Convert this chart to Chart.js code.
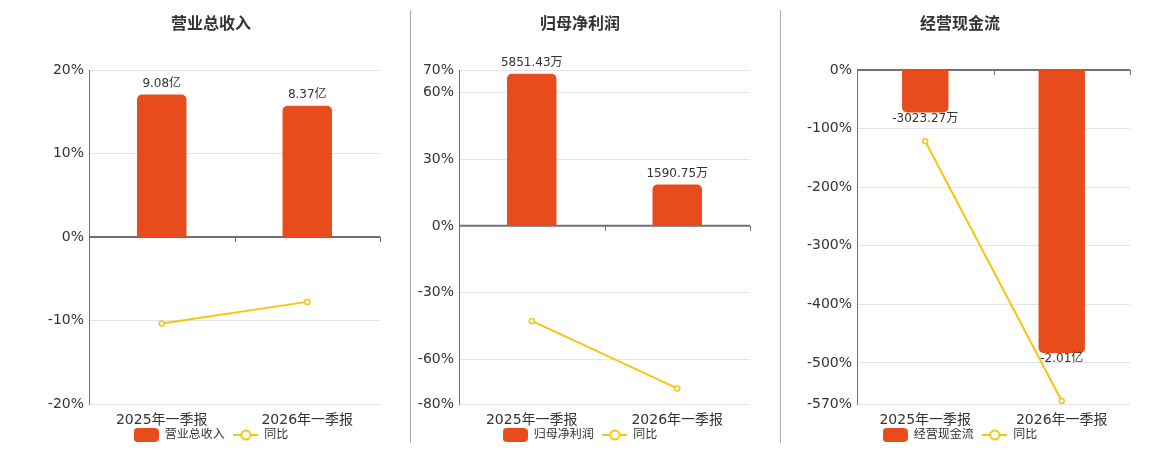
<!DOCTYPE html>
<html>
<head>
<meta charset="utf-8">
<script src="https://cdn.jsdelivr.net/npm/chart.js@4.4.0/dist/chart.umd.min.js"></script>
<style>
body{margin:0;width:1160px;height:450px;background:#fff;position:relative;overflow:hidden}
.box{position:absolute;top:0}
.sep{position:absolute;top:10px;width:1px;height:433px;background:#aeada6}
</style>
</head>
<body>
<div class="box" style="left:0"><canvas id="c1" width="422" height="451"></canvas></div>
<div class="box" style="left:400px"><canvas id="c2" width="360" height="451"></canvas></div>
<div class="box" style="left:780px"><canvas id="c3" width="360" height="451"></canvas></div>
<div class="sep" style="left:410px"></div>
<div class="sep" style="left:780px"></div>
<script>
var categories = ['2025年一季报', '2026年一季报'];

// 营业总收入 (亿)
var revenueValues = [9.08, 8.37];
var revenueLabels = ['9.08亿', '8.37亿'];
var revenueYoy = [-10.35, -7.77];
var revenueTicks = [-20, -10, 0, 10, 20];

// 归母净利润 (万)
var profitValues = [5851.43, 1590.75];
var profitLabels = ['5851.43万', '1590.75万'];
var profitYoy = [-42.7, -73.0];
var profitTicks = [-80, -60, -30, 0, 30, 60, 70];

// 经营现金流 (万)
var cashValues = [-3023.27, -20100];
var cashLabels = ['-3023.27万', '-2.01亿'];
var cashYoy = [-121.6, -565];
var cashTicks = [-570, -500, -400, -300, -200, -100, 0];

var red = '#e84c1d';
var yellow = '#f5c60f';
var axisColor = '#6e7079';

Chart.defaults.font.family = "'DejaVu Sans', 'Noto Sans CJK SC', sans-serif";
Chart.defaults.color = '#333';

function barIcon() {
    var c = document.createElement('canvas');
    c.width = 25; c.height = 14;
    var g = c.getContext('2d');
    g.fillStyle = red;
    g.beginPath();
    g.roundRect(0, 0, 25, 14, 4);
    g.fill();
    return c;
}
function lineIcon() {
    var c = document.createElement('canvas');
    c.width = 25; c.height = 14;
    var g = c.getContext('2d');
    g.strokeStyle = yellow;
    g.lineWidth = 2;
    g.beginPath(); g.moveTo(0, 7); g.lineTo(25, 7); g.stroke();
    g.fillStyle = '#fff';
    g.beginPath(); g.arc(12.5, 7, 4.5, 0, Math.PI * 2); g.fill(); g.stroke();
    return c;
}
var barImg = barIcon();
var lineImg = lineIcon();

// zero line with category tick marks
var zeroAxis = {
    id: 'zeroAxis',
    beforeDatasetsDraw: function(chart) {
        var ctx = chart.ctx, a = chart.chartArea, xs = chart.scales.x;
        var y0 = chart.scales.y.getPixelForValue(0);
        var half = (xs.getPixelForValue(1) - xs.getPixelForValue(0)) / 2;
        ctx.save();
        ctx.strokeStyle = axisColor;
        ctx.lineWidth = 2;
        ctx.beginPath(); ctx.moveTo(a.left, y0); ctx.lineTo(a.right, y0); ctx.stroke();
        ctx.lineWidth = 1;
        for (var i = 0; i < chart.data.labels.length; i++) {
            var x = Math.round(xs.getPixelForValue(i) + half) + 0.5;
            ctx.beginPath(); ctx.moveTo(x, y0); ctx.lineTo(x, y0 + 5); ctx.stroke();
        }
        ctx.restore();
    }
};

// value labels on the bars
var barLabels = {
    id: 'barLabels',
    afterDatasetsDraw: function(chart) {
        var ctx = chart.ctx;
        chart.data.datasets.forEach(function(ds, di) {
            if (ds.type !== 'bar') return;
            var meta = chart.getDatasetMeta(di);
            ctx.save();
            ctx.font = "12px 'DejaVu Sans', 'Noto Sans CJK SC', sans-serif";
            ctx.fillStyle = '#333';
            ctx.textAlign = 'center';
            ctx.textBaseline = 'middle';
            meta.data.forEach(function(el, i) {
                var y = ds.data[i] >= 0 ? el.y - 11 : el.y + 6;
                ctx.fillText(ds.valueLabels[i], el.x, y);
            });
            ctx.restore();
        });
    }
};

function makeChart(id, title, name, values, labels, yoy, ticks, unitPerPct, leftWidth, rightWidth) {
    var lo = Math.min.apply(null, ticks), hi = Math.max.apply(null, ticks);
    return new Chart(document.getElementById(id), {
        data: {
            labels: categories,
            datasets: [
                {
                    type: 'line', label: '同比', data: yoy, yAxisID: 'y',
                    borderColor: yellow, borderWidth: 2, tension: 0,
                    pointRadius: 2.5, pointBorderWidth: 1.5,
                    pointBackgroundColor: '#fff', pointBorderColor: yellow
                },
                {
                    type: 'bar', label: name, data: values, yAxisID: 'y2',
                    backgroundColor: red, borderRadius: 5, borderSkipped: 'start',
                    barPercentage: 0.34, categoryPercentage: 1,
                    valueLabels: labels
                }
            ]
        },
        options: {
            responsive: false,
            animation: false,
            layout: {padding: 0},
            scales: {
                x: {
                    // tick length pushes the labels down inside the axis box
                    grid: {display: false, drawTicks: true, tickLength: 8, tickColor: 'rgba(0,0,0,0)'},
                    border: {display: false},
                    ticks: {color: '#333', font: {size: 14, lineHeight: '2px'}, padding: 7}
                },
                y: {
                    min: lo, max: hi,
                    afterBuildTicks: function(s) { s.ticks = ticks.map(function(v) { return {value: v}; }); },
                    afterFit: function(s) { s.width = leftWidth; },
                    ticks: {
                        autoSkip: false, color: '#333', font: {size: 14}, padding: 5,
                        callback: function(v) { return v + '%'; }
                    },
                    grid: {color: '#e0e6f1', drawTicks: false},
                    border: {color: axisColor, width: 1}
                },
                // bar values, hidden, zero kept level with 0%
                y2: {
                    position: 'right',
                    min: lo * unitPerPct, max: hi * unitPerPct,
                    afterFit: function(s) { s.width = rightWidth; },
                    ticks: {display: false},
                    grid: {display: false, drawTicks: false},
                    border: {display: false}
                }
            },
            plugins: {
                title: {
                    display: true, text: title, color: '#333',
                    font: {size: 16, weight: 'bold'},
                    padding: {top: 15.5, bottom: 35.3}
                },
                legend: {
                    position: 'bottom',
                    labels: {
                        usePointStyle: true, pointStyleWidth: 25, padding: 1,
                        color: '#333', font: {size: 12},
                        sort: function(a, b) { return b.datasetIndex - a.datasetIndex; },
                        generateLabels: function(chart) {
                            var items = Chart.defaults.plugins.legend.labels.generateLabels(chart);
                            items.forEach(function(it) {
                                var isBar = chart.data.datasets[it.datasetIndex].type === 'bar';
                                it.pointStyle = isBar ? barImg : lineImg;
                                if (isBar) it.text = it.text + '  ';
                            });
                            return items;
                        }
                    }
                },
                tooltip: {enabled: false}
            }
        },
        plugins: [zeroAxis, barLabels]
    });
}

makeChart('c1', '营业总收入', '营业总收入', revenueValues, revenueLabels, revenueYoy, revenueTicks, 10.65 / 20, 89, 42);
makeChart('c2', '归母净利润', '归母净利润', profitValues, profitLabels, profitYoy, profitTicks, 5997 / 70, 59, 10);
makeChart('c3', '经营现金流', '经营现金流', cashValues, cashLabels, cashYoy, cashTicks, 23720 / 570, 77, 10);
</script>
</body>
</html>
